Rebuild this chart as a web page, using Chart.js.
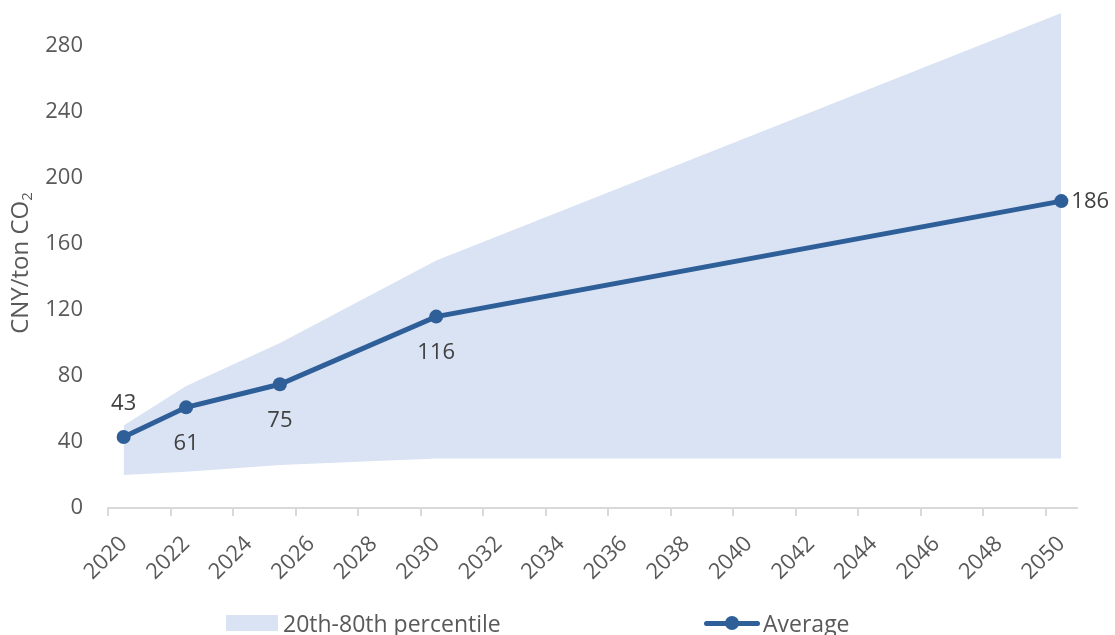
<!DOCTYPE html>
<html>
<head>
<meta charset="utf-8">
<script src="https://cdn.jsdelivr.net/npm/chart.js@4"></script>
<style>
  html, body { margin: 0; padding: 0; background: #fff; }
  #wrap { position: relative; width: 1115px; height: 635px; overflow: hidden; }
  #legend { position: absolute; top: 610px; left: 0; width: 1115px; height: 26px;
            font-family: "Open Sans", sans-serif; font-size: 23px; color: #595959; }
  .item { position: absolute; display: flex; align-items: center; height: 26px; }
  .swatch { width: 52px; height: 16px; background: #dae3f3; margin-right: 5px; }
  .lineKey { position: relative; width: 56px; height: 16px; margin-right: 3px; }
  .lineKey .ln { position: absolute; left: 0; right: 0; top: 6px; height: 5px; background: #2f5f98; border-radius: 3px; }
  .lineKey .dot { position: absolute; left: 21px; top: 1px; width: 14px; height: 14px; border-radius: 50%; background: #2f5f98; }
</style>
</head>
<body>
<div id="wrap">
  <canvas id="chart" width="1115" height="635"></canvas>
  <div id="legend">
    <div class="item" style="left:226px"><span class="swatch"></span><span id="lgBand"></span></div>
    <div class="item" style="left:704px"><span class="lineKey"><span class="ln"></span><span class="dot"></span></span><span id="lgAvg"></span></div>
  </div>
</div>
<script>
// years on the x axis
const years = [];
for (let y = 2020; y <= 2050; y++) years.push(String(y));

// 20th / 80th percentile (only the known years, others null)
const bandYears = ['2020', '2022', '2025', '2030', '2050'];
const bandLow  = [20, 22, 26, 30, 30];
const bandHigh = [50, 74, 100, 150, 300];

// average carbon price
const avgYears = ['2020', '2022', '2025', '2030', '2050'];
const avgValues = [43, 61, 75, 116, 186];

const yTicksMax = 280;
const bandLabel = '20th-80th percentile';
const avgLabel = 'Average';

const toSeries = (keys, vals) => years.map(y => {
  const i = keys.indexOf(y);
  return i < 0 ? null : vals[i];
});

const FONT = '"Open Sans", sans-serif';
const lineColor = '#2f5f98';
const bandColor = '#dae3f3';

// where each value label sits relative to its point
const labelPlace = { '2020': 'above', '2022': 'below', '2025': 'below', '2030': 'below', '2050': 'right' };

const valueLabels = {
  id: 'valueLabels',
  afterDatasetsDraw(chart) {
    const ctx = chart.ctx;
    const meta = chart.getDatasetMeta(2);
    ctx.save();
    ctx.font = '22px ' + FONT;
    ctx.fillStyle = '#404040';
    meta.data.forEach((pt, i) => {
      const v = chart.data.datasets[2].data[i];
      if (v == null) return;
      const pos = labelPlace[years[i]];
      if (pos === 'right') {
        ctx.textAlign = 'left'; ctx.textBaseline = 'middle';
        ctx.fillText(v, pt.x + 10, pt.y + 1);
      } else {
        ctx.textAlign = 'center'; ctx.textBaseline = 'middle';
        ctx.fillText(v, pt.x, pos === 'above' ? pt.y - 33 : pt.y + 36);
      }
    });
    ctx.restore();
  }
};

// rotated y title with subscript 2
const yTitle = {
  id: 'yTitle',
  afterDraw(chart) {
    const ctx = chart.ctx;
    ctx.save();
    ctx.translate(28, 263);
    ctx.rotate(-Math.PI / 2);
    ctx.fillStyle = '#595959';
    ctx.textBaseline = 'alphabetic';
    ctx.textAlign = 'left';
    const main = 'CNY/ton CO';
    ctx.font = '24px ' + FONT;
    const w = ctx.measureText(main).width;
    ctx.font = '15px ' + FONT;
    const w2 = ctx.measureText('2').width;
    const x0 = -(w + w2) / 2;
    ctx.font = '24px ' + FONT;
    ctx.fillText(main, x0, 0);
    ctx.font = '15px ' + FONT;
    ctx.fillText('2', x0 + w, 4);
    ctx.restore();
  }
};

document.getElementById('lgBand').textContent = bandLabel;
document.getElementById('lgAvg').textContent = avgLabel;

new Chart(document.getElementById('chart'), {
  type: 'line',
  data: {
    labels: years,
    datasets: [
      {
        label: bandLabel + ' low',
        data: toSeries(bandYears, bandLow),
        order: 2,
        spanGaps: true, pointRadius: 0, borderWidth: 0, fill: false, tension: 0
      },
      {
        label: bandLabel,
        data: toSeries(bandYears, bandHigh),
        order: 1,
        spanGaps: true, pointRadius: 0, borderWidth: 0,
        backgroundColor: bandColor, fill: '-1', tension: 0
      },
      {
        label: avgLabel,
        data: toSeries(avgYears, avgValues),
        order: 0,
        spanGaps: true, borderColor: lineColor, borderWidth: 5,
        pointRadius: 7, pointBackgroundColor: lineColor, pointBorderWidth: 0,
        fill: false, tension: 0, clip: false
      }
    ]
  },
  options: {
    responsive: false,
    animation: false,
    layout: { padding: { left: 0, right: 38, top: 13, bottom: 0 } },
    plugins: { legend: { display: false }, tooltip: { enabled: false } },
    scales: {
      x: {
        offset: true,
        grid: {
          offset: true,
          drawOnChartArea: false,
          tickLength: 8,
          color: c => (c.index % 2 === 0 ? '#d9d9d9' : 'rgba(0,0,0,0)'),
          lineWidth: 2
        },
        border: { color: '#d9d9d9', width: 2 },
        ticks: {
          autoSkip: false,
          minRotation: 45, maxRotation: 45,
          font: { family: FONT, size: 22 },
          color: '#595959',
          padding: 15,
          callback: function (v, i) { return i % 2 === 0 ? this.getLabelForValue(v) : ''; }
        },
        afterFit: s => { s.height = 127; s.paddingLeft = 0; s.paddingRight = 0; }
      },
      y: {
        min: 0, max: 300,
        grid: { display: false },
        border: { display: false },
        ticks: {
          stepSize: 40,
          font: { family: FONT, size: 22 },
          color: '#595959',
          padding: 17
        },
        afterBuildTicks: s => { s.ticks = s.ticks.filter(t => t.value <= yTicksMax); },
        afterFit: s => { s.width = 108; s.paddingTop = 0; s.paddingBottom = 0; }
      }
    }
  },
  plugins: [valueLabels, yTitle]
});
</script>
</body>
</html>
